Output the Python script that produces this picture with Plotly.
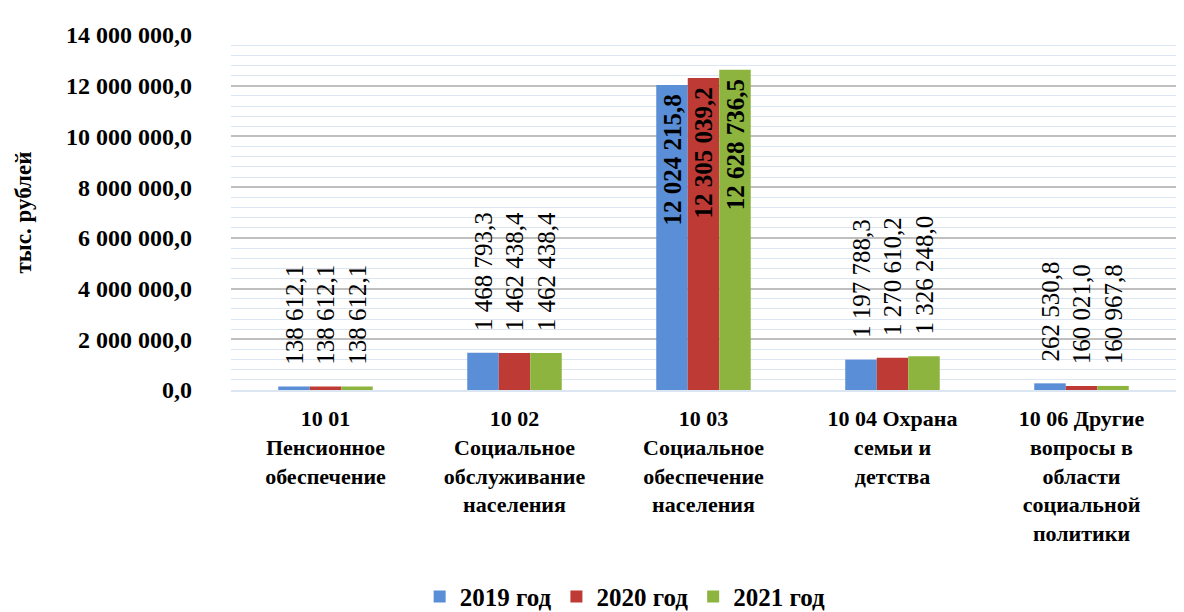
import plotly.graph_objects as go

categories = [
    "10 01<br>Пенсионное<br>обеспечение",
    "10 02<br>Социальное<br>обслуживание<br>населения",
    "10 03<br>Социальное<br>обеспечение<br>населения",
    "10 04 Охрана<br>семьи и<br>детства",
    "10 06 Другие<br>вопросы в<br>области<br>социальной<br>политики",
]
series_names = ["2019 год", "2020 год", "2021 год"]
values_2019 = [138612.1, 1468793.3, 12024215.8, 1197788.3, 262530.8]
values_2020 = [138612.1, 1462438.4, 12305039.2, 1270610.2, 160021.0]
values_2021 = [138612.1, 1462438.4, 12628736.5, 1326248.0, 160967.8]
colors = ["#5A8ED6", "#BE3A34", "#8DB43E"]
y_title = "тыс. рублей"

SERIF = "'Times New Roman', 'Liberation Serif', serif"
NBSP = "\u00a0"


def fmt(v):
    return f"{v:,.1f}".replace(",", " ").replace(".", ",")


fig = go.Figure()
inside_threshold = 5_000_000
for name, vals, col in zip(series_names, [values_2019, values_2020, values_2021], colors):
    texts = [("<b>" + fmt(v) + NBSP + "</b>") if v > inside_threshold else (NBSP * 3 + fmt(v)) for v in vals]
    pos = ["inside" if v > inside_threshold else "outside" for v in vals]
    fig.add_trace(go.Bar(
        name=name, x=categories, y=vals,
        marker=dict(color=col, line=dict(width=0)),
        text=texts, textposition=pos, textangle=-90,
        insidetextanchor="end", constraintext="none", cliponaxis=False,
        textfont=dict(family=SERIF, size=25, color="black"),
        insidetextfont=dict(family=SERIF, size=25, color="black"),
        outsidetextfont=dict(family=SERIF, size=25, color="black"),
    ))

fig.update_layout(
    width=1184, height=612,
    barmode="group", bargap=0.5, bargroupgap=0,
    separators=", ",
    paper_bgcolor="white", plot_bgcolor="white",
    margin=dict(l=231, r=8, t=35, b=222, autoexpand=False),
    font=dict(family=SERIF, size=22, color="black"),
    legend=dict(orientation="h", xref="container", x=0.528, xanchor="center",
                yref="container", y=0.025, yanchor="middle",
                font=dict(family=SERIF, size=25, color="black", weight="bold"),
                itemwidth=30, traceorder="normal"),
    showlegend=True,
)
fig.update_yaxes(
    range=[0, 14_000_000], dtick=2_000_000, tickformat=",.1f",
    showgrid=True, gridcolor="#BFBFBF", gridwidth=2,
    minor=dict(dtick=400_000, showgrid=True, gridcolor="#DCE6F2", gridwidth=1),
    zeroline=False, showline=False, automargin=False,
    tickfont=dict(family=SERIF, size=24, color="black", weight="bold"),
    ticks="", ticklabelstandoff=38,
    title=dict(text=y_title, font=dict(family=SERIF, size=23, color="black", weight="bold"),
               standoff=27),
)
fig.update_xaxes(
    showgrid=False, showline=True, linecolor="#DCE6F2", linewidth=2, automargin=False,
    tickfont=dict(family=SERIF, size=22, color="black", weight="bold"),
    ticks="", ticklabelstandoff=8,
)

fig.write_html("out.html", config={"displayModeBar": False},
               post_script="document.body.style.margin='0';document.body.style.overflow='hidden';")
